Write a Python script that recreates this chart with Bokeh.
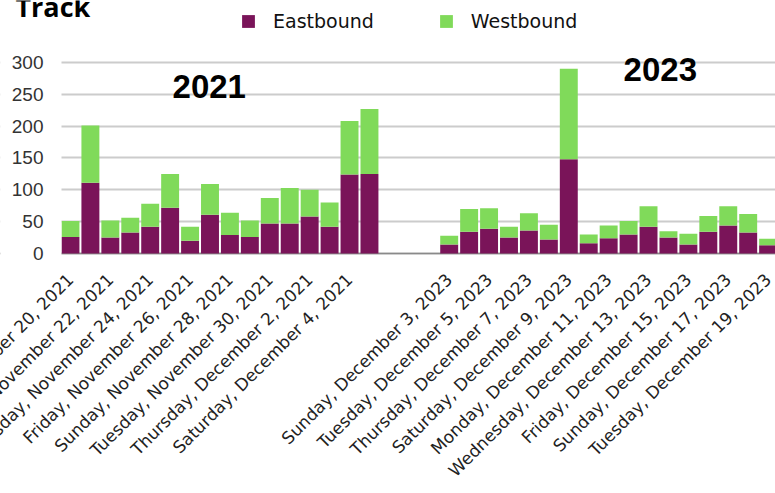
import math
import pandas as pd
from bokeh.plotting import figure
from bokeh.models import (ColumnDataSource, FixedTicker, Range1d, Legend,
                          LegendItem, Label, BoxAnnotation, Span)
from bokeh.embed import file_html
from bokeh.resources import INLINE

# ---------------- data ----------------
days_2021 = pd.date_range("2021-11-20", "2021-12-05").strftime("%Y-%m-%d").tolist()
days_2023 = pd.date_range("2023-12-03", "2023-12-19").strftime("%Y-%m-%d").tolist()

east_2021 = [26, 111, 25, 33, 42, 72, 20, 61, 29, 26, 47, 47, 58, 42, 124, 125]
west_2021 = [25, 90, 27, 23, 36, 53, 22, 48, 35, 26, 40, 56, 42, 38, 84, 102]
east_2023 = [14, 34, 39, 25, 36, 22, 148, 16, 24, 30, 42, 25, 14, 34, 44, 33, 13]
west_2023 = [14, 36, 32, 17, 27, 23, 142, 14, 20, 21, 32, 10, 17, 25, 30, 29, 10]

gap_slots = 3  # empty category slots between the two periods

tick_labels_2021 = [
    "Saturday, November 20, 2021", "Monday, November 22, 2021",
    "Wednesday, November 24, 2021", "Friday, November 26, 2021",
    "Sunday, November 28, 2021", "Tuesday, November 30, 2021",
    "Thursday, December 2, 2021", "Saturday, December 4, 2021",
]
tick_labels_2023 = [
    "Sunday, December 3, 2023", "Tuesday, December 5, 2023",
    "Thursday, December 7, 2023", "Saturday, December 9, 2023",
    "Monday, December 11, 2023", "Wednesday, December 13, 2023",
    "Friday, December 15, 2023", "Sunday, December 17, 2023",
    "Tuesday, December 19, 2023",
]
y_ticks = [0, 50, 100, 150, 200, 250, 300]
series_names = ["Eastbound", "Westbound"]
colors = ["#7a1459", "#80da5a"]

# ---------------- positions (category slots) ----------------
slots = days_2021 + [None] * gap_slots + days_2023
x_2021 = [slots.index(d) for d in days_2021]
x_2023 = [slots.index(d) for d in days_2023]

src = ColumnDataSource(dict(
    x=x_2021 + x_2023,
    Eastbound=east_2021 + east_2023,
    Westbound=west_2021 + west_2023,
))

x_lo, x_hi = -0.45, len(slots) - 0.63          # plotted category extent
tick_pos = x_2021[::2] + x_2023[::2]
tick_text = tick_labels_2021 + tick_labels_2023
# blank end ticks keep Bokeh from nudging the outer labels inward
ticks_all = [x_lo + 0.01] + tick_pos + [x_hi - 0.07]
overrides = {x_lo + 0.01: "", x_hi - 0.07: ""}
overrides.update({int(k): v for k, v in zip(tick_pos, tick_text)})

# ---------------- figure ----------------
p = figure(width=775, height=493, output_backend="svg", toolbar_location=None,
           x_range=Range1d(-3.51, x_hi), y_range=Range1d(-12.6, 397.4),
           min_border_left=0, min_border_right=0, min_border_top=0,
           min_border_bottom=232)
p.outline_line_color = None
p.background_fill_color = "white"
p.border_fill_color = "white"

# baseline (hidden under the bars, like the original)
p.add_layout(Span(location=0, dimension="width", line_color="#8a8a8a",
                  line_width=1.5, level="underlay"))

rs = p.vbar_stack(series_names, x="x", width=0.9, color=colors,
                  line_color=None, source=src)

# axes
p.xaxis.ticker = FixedTicker(ticks=ticks_all)
p.xaxis.major_label_overrides = overrides
p.xaxis.major_label_orientation = math.pi / 4
p.xaxis.major_label_text_font = "DejaVu Sans"
p.xaxis.major_label_text_font_size = "17px"
p.xaxis.major_label_text_color = "#222222"
p.xaxis.major_tick_line_color = None
p.xaxis.minor_tick_line_color = None
p.xaxis.axis_line_color = None
p.xaxis.major_label_standoff = 9

p.yaxis.fixed_location = x_lo
p.yaxis.ticker = FixedTicker(ticks=y_ticks)
p.yaxis.axis_line_color = None
p.yaxis.major_tick_line_color = None
p.yaxis.minor_tick_line_color = None
p.yaxis.major_label_text_font = "Liberation Sans"
p.yaxis.major_label_text_font_size = "19px"
p.yaxis.major_label_text_color = "#333333"
p.yaxis.major_label_standoff = 12

p.xgrid.grid_line_color = None
p.ygrid.grid_line_color = "#cccccc"
p.ygrid.grid_line_width = 2

# keep grid lines and baseline off the tick-label margin
p.add_layout(BoxAnnotation(right=x_lo, fill_color="white", fill_alpha=1,
                           line_color=None, level="glyph"))

# legend
legend = Legend(items=[LegendItem(label=n, renderers=[r]) for n, r in zip(series_names, rs)],
                orientation="horizontal", location=(240, 229),
                border_line_color=None, background_fill_alpha=0,
                padding=0, margin=0, spacing=64,
                glyph_width=16, glyph_height=16, label_standoff=17,
                label_height=16,
                label_text_font="DejaVu Sans", label_text_font_size="19px",
                label_text_color="#111111")
p.add_layout(legend)

# annotations
p.add_layout(Label(x=5.12, y=244.5, text="2021", text_font="Liberation Sans",
                   text_font_style="bold", text_font_size="33px", text_color="black"))
p.add_layout(Label(x=27.75, y=271, text="2023", text_font="Liberation Sans",
                   text_font_style="bold", text_font_size="33px", text_color="black"))
p.add_layout(Label(x=-2.76, y=359, text="Track", text_font="Open Sans",
                   text_font_style="bold", text_font_size="27px", text_color="black"))

open("out.html", "w").write(file_html(p, INLINE))
